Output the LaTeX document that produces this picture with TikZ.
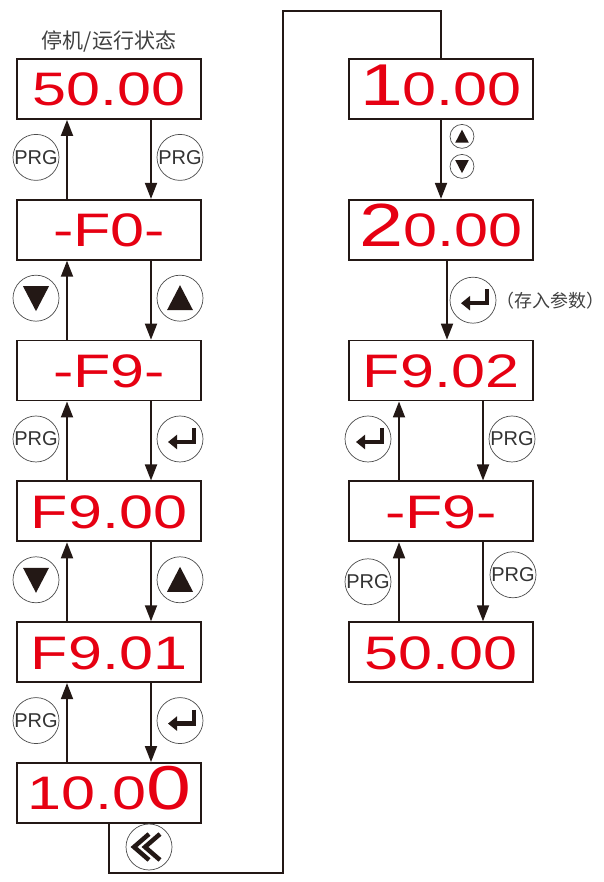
\documentclass[tikz,border=0pt]{standalone}
\usepackage{fontspec}
\usepackage{tikz}
\usetikzlibrary{calc,positioning,arrows.meta}
\newfontfamily\cjkfont{Noto Sans CJK SC}
\newfontfamily\segfont[FakeStretch=1.3]{Liberation Sans}
\newfontfamily\keyfont{Liberation Sans}
\definecolor{ink}{RGB}{35,24,21}
\definecolor{ledred}{RGB}{230,0,18}
\tikzset{
  lcd/.style={draw=ink, line width=1.8pt, minimum width=184pt, minimum height=60pt, inner sep=0pt, text height=34pt, text depth=0pt, text=ledred, font=\segfont\fontsize{47}{47}\selectfont},
  wire/.style={draw=ink, line width=1.8pt},
  flow/.style={wire, -{Triangle[length=16pt,width=12pt]}},
  key/.style={circle, draw=black!70, line width=0.7pt, fill=white, minimum size=46pt, inner sep=0pt, text=black!80, font=\keyfont\fontsize{20}{20}\selectfont},
  prg/.style={key, node contents=PRG},
  upkey/.style={key, minimum size=46pt*#1, node contents={}, path picture={\fill[ink] ([yshift=13pt*#1]path picture bounding box.center) -- ++(-13pt*#1,-25pt*#1) -- ++(26pt*#1,0pt) -- cycle;}},
  upkey/.default=1,
  downkey/.style={key, minimum size=46pt*#1, node contents={}, path picture={\fill[ink] ([yshift=-13pt*#1]path picture bounding box.center) -- ++(-13pt*#1,25pt*#1) -- ++(26pt*#1,0pt) -- cycle;}},
  downkey/.default=1,
  enterkey/.style={key, node contents={}, path picture={\draw[ink, line width=4.5pt, -{Triangle[length=9pt,width=14pt]}] ([shift={(14pt,11pt)}]path picture bounding box.center) -- ++(0pt,-14pt) -- ++(-26pt,0pt);}},
  backkey/.style={key, node contents={}, path picture={\foreach \dx in {0pt,11pt} \draw[ink, line width=4.5pt] ([shift={(\dx,13pt)}]path picture bounding box.center) -- ++(-15pt,-13pt) -- ++(15pt,-13pt);}},
  note/.style={inner sep=0pt, text=black!75, font=\cjkfont\fontsize{18}{18}\selectfont}
}
\begin{document}
\begin{tikzpicture}[x=1pt,y=1pt,node distance=79pt]
\useasboundingbox (0,0) rectangle (603,882);
\node[lcd] (L1) at (109,793) {50.00};
\node[lcd,below=of L1] (L2) {-F0-};
\node[lcd,below=of L2] (L3) {-F9-};
\node[lcd,below=of L3] (L4) {F9.00};
\node[lcd,below=of L4] (L5) {F9.01};
\node[lcd,below=of L5] (L6) {10.0{\fontsize{62}{62}\selectfont 0}};
\node[above=6pt of L1, inner sep=0pt, text=black!75, font=\cjkfont\fontsize{21}{21}\selectfont] (title) {停机/运行状态};
\node[lcd] (R1) at (441,793) {{\fontsize{59}{59}\selectfont 1}0.00};
\node[lcd,below=of R1] (R2) {{\fontsize{61}{61}\selectfont 2}0.00};
\node[lcd,below=of R2] (R3) {F9.02};
\node[lcd,below=of R3] (R4) {-F9-};
\node[lcd,below=of R4] (R5) {50.00};
\foreach \u/\v in {L1/L2,L2/L3,L3/L4,L4/L5,L5/L6,R3/R4,R4/R5}{
  \draw[flow] ([xshift=-42pt]\v.north) -- ([xshift=-42pt]\u.south);
  \draw[flow] ([xshift=42pt]\u.south) -- ([xshift=42pt]\v.north);
}
\draw[flow] (R1.south) -- (R2.north);
\draw[flow] ([xshift=6pt]R2.south) -- ([xshift=6pt]R3.north);
\coordinate (bl) at (283,9);
\coordinate (tl) at (283,871);
\draw[wire] (L6.south) |- (bl) -- (tl) -| (R1.north);
\foreach \u/\v/\l/\r in {L1/L2/prg/prg, L2/L3/downkey/upkey, L3/L4/prg/enterkey, L4/L5/downkey/upkey, L5/L6/prg/enterkey, R3/R4/enterkey/prg}{
  \node (\u-l) at ($(\u.south)!.5!(\v.north)+(-73,2)$) [\l];
  \node (\u-r) at ($(\u.south)!.5!(\v.north)+(71,2)$) [\r];
}
\node (R4-l) at ($(R4.south)!.5!(R5.north)+(-73,0)$) [prg];
\node (R4-r) at ($(R4.south)!.5!(R5.north)+(72,7)$) [prg];
\node (R1-u) at ($(R1.south)!.5!(R2.north)+(21,23)$) [upkey=0.52];
\node (R1-d) at ($(R1.south)!.5!(R2.north)+(21,-7)$) [downkey=0.52];
\node (R2-r) at ($(R2.south)!.5!(R3.north)+(32,0)$) [enterkey];
\node[note, right=0pt of R2-r] (store) {（存入参数）};
\node (L6-b) at (149,35) [backkey];
\end{tikzpicture}
\end{document}
